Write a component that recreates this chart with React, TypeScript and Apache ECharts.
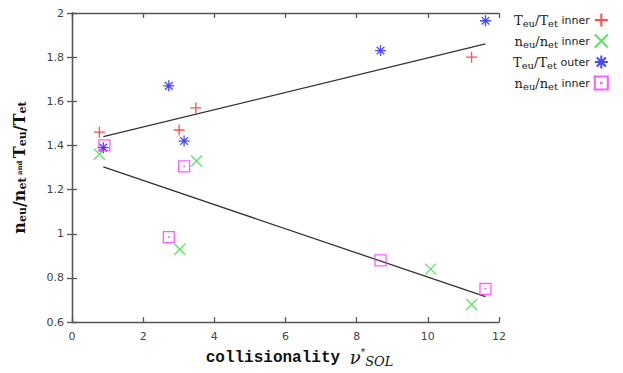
import React, { useEffect, useRef } from "react";
import * as echarts from "echarts";

const teInner: number[][] = [[0.77, 1.46], [3.01, 1.47], [3.48, 1.57], [11.23, 1.8]];
const neInner: number[][] = [[0.77, 1.36], [3.5, 1.33], [3.03, 0.93], [10.08, 0.84], [11.23, 0.68]];
const teOuter: number[][] = [[0.88, 1.39], [3.15, 1.42], [2.72, 1.67], [8.67, 1.83], [11.62, 1.965]];
const neInner2: number[][] = [[0.91, 1.4], [3.15, 1.305], [2.72, 0.985], [8.67, 0.88], [11.62, 0.75]];
const fitUpper: number[][] = [[0.88, 1.44], [11.62, 1.86]];
const fitLower: number[][] = [[0.88, 1.303], [11.62, 0.715]];

const seriesIds = ["s1", "s2", "s3", "s4"];
const legendLabels: Record<string, string> = {
  s1: "{a|T}{s|eu}{a|/T}{s|et}{b| inner}",
  s2: "{a|n}{s|eu}{a|/n}{s|et}{b| inner}",
  s3: "{a|T}{s|eu}{a|/T}{s|et}{b| outer}",
  s4: "{a|n}{s|eu}{a|/n}{s|et}{b| inner}",
};

const PLUS = "path://M5,0L5,10M0,5L10,5";
const CROSS = "path://M0,0L10,10M10,0L0,10";
const STAR = "path://M5,0L5,10M0,5L10,5M1.5,1.5L8.5,8.5M8.5,1.5L1.5,8.5";
const SQUARE = "path://M0,0L10,0L10,10L0,10ZM4.8,4.8L5.2,4.8L5.2,5.2L4.8,5.2Z";

export default function App() {
  const ref = useRef<HTMLDivElement>(null);
  useEffect(() => {
    if (!ref.current) return;
    const chart = echarts.init(ref.current, null, { renderer: "svg" });
    const axisLine = { show: true, lineStyle: { color: "#555", width: 1.3 } };
    const tick = { show: true, inside: true, length: 5, lineStyle: { color: "#555", width: 1.3 } };
    const label = { color: "#444", fontSize: 11, fontFamily: "DejaVu Sans" };
    const mk = (id: string, data: number[][], symbol: string, color: string, size: number) => ({
      type: "scatter",
      name: id,
      data,
      symbol,
      symbolSize: size,
      itemStyle: { color: "none", borderColor: color, borderWidth: 1.3 },
      z: 3,
    });
    chart.setOption({
      animation: false,
      grid: { left: 72, right: 124, top: 13, bottom: 48 },
      xAxis: [
        {
          type: "value", min: 0, max: 12, interval: 2,
          axisLine, axisTick: tick, splitLine: { show: false },
          axisLabel: { ...label, margin: 9 },
          name: "{c|collisionality }{nu|ν}{sup|*}{sub|SOL}",
          nameLocation: "middle", nameGap: 20,
          nameTextStyle: {
            padding: [0, 0, 0, 28],
            rich: {
              c: { fontFamily: "Liberation Mono", fontWeight: "bold", fontSize: 16, color: "#111" },
              nu: { fontFamily: "DejaVu Serif", fontStyle: "italic", fontSize: 18, color: "#111" },
              sup: { fontFamily: "DejaVu Serif", fontSize: 9, color: "#111", padding: [0, 0, 12, 0] },
              sub: { fontFamily: "DejaVu Serif", fontStyle: "italic", fontSize: 13, color: "#111", padding: [8, 0, 0, 0] },
            },
          },
        },
        {
          type: "value", min: 0, max: 12, interval: 2, position: "top",
          axisLine, axisTick: tick, axisLabel: { show: false }, splitLine: { show: false },
        },
      ],
      yAxis: [
        {
          type: "value", min: 0.6, max: 2, interval: 0.2,
          axisLine, axisTick: tick, splitLine: { show: false },
          axisLabel: { ...label, margin: 8, formatter: (v: number) => String(Math.round(v * 10) / 10) },
          name: "{a|n}{s|eu}{a|/n}{s|et}{t| and }{a|T}{s|eu}{a|/T}{s|et}",
          nameLocation: "middle", nameGap: 44,
          nameTextStyle: {
            rich: {
              a: { fontFamily: "DejaVu Serif", fontWeight: "bold", fontSize: 16, color: "#111" },
              s: { fontFamily: "DejaVu Serif", fontWeight: "bold", fontSize: 11, color: "#111", padding: [7, 0, 0, 0] },
              t: { fontFamily: "DejaVu Serif", fontWeight: "bold", fontSize: 7, color: "#111" },
            },
          },
        },
        {
          type: "value", min: 0.6, max: 2, interval: 0.2, position: "right",
          axisLine, axisTick: tick, axisLabel: { show: false }, splitLine: { show: false },
        },
      ],
      legend: {
        data: seriesIds,
        orient: "vertical",
        left: 508,
        top: 6,
        align: "right",
        itemWidth: 13,
        itemHeight: 13,
        itemGap: 3,
        formatter: (name: string) => legendLabels[name],
        textStyle: {
          width: 86,
          rich: {
            a: { fontFamily: "DejaVu Serif", fontSize: 13, color: "#222" },
            s: { fontFamily: "DejaVu Serif", fontSize: 10, color: "#222", padding: [6, 0, 0, 0] },
            b: { fontFamily: "DejaVu Sans", fontSize: 11, color: "#222" },
          },
        },
      },
      series: [
        mk("s1", teInner, PLUS, "#ff2020", 11),
        mk("s2", neInner, CROSS, "#33dd33", 11),
        mk("s3", teOuter, STAR, "#1a1aff", 11),
        mk("s4", neInner2, SQUARE, "#ff33ff", 11),
        {
          type: "line", name: "fitUpper", data: fitUpper, symbol: "none",
          lineStyle: { color: "#333", width: 1.3 }, z: 2,
        },
        {
          type: "line", name: "fitLower", data: fitLower, symbol: "none",
          lineStyle: { color: "#333", width: 1.3 }, z: 2,
        },
      ],
    });
    return () => chart.dispose();
  }, []);
  return (
    <div
      ref={ref}
      style={{ position: "absolute", left: 0, top: 0, width: 623, height: 373 }}
    />
  );
}
